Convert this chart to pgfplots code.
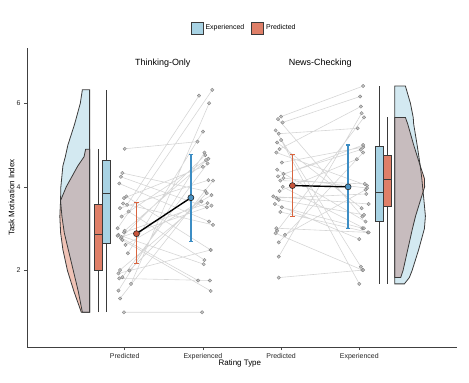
\documentclass[border=0pt]{standalone}
\usepackage{fontspec}
\setmainfont{Liberation Sans}
\usepackage{pgfplots}
\usepackage{pgfplotstable}
\pgfplotsset{compat=1.18}
\usepgfplotslibrary{statistics}
\definecolor{expbox}{HTML}{A8D3E4}
\definecolor{predbox}{HTML}{DF7F68}
\definecolor{expviol}{HTML}{D3E9F1}
\definecolor{predviol}{HTML}{F0C3B6}
\definecolor{overlap}{HTML}{C7BCBE}
\definecolor{errred}{HTML}{D9653F}
\definecolor{errblue}{HTML}{3C8DC4}
\definecolor{meanred}{HTML}{C9553C}
\definecolor{meanblue}{HTML}{4B93C4}
\definecolor{outl}{HTML}{3A3A3A}
\definecolor{pairline}{HTML}{D6D6D6}
\definecolor{ptfill}{HTML}{B8B8B8}
\definecolor{ptdraw}{HTML}{858585}

\pgfplotstableread{
x y
1.00 4.91
1.93 5.08
nan nan
0.97 4.33
2.03 3.90
nan nan
0.95 4.24
2.05 3.51
nan nan
0.93 4.08
2.08 3.17
nan nan
1.02 3.77
2.10 2.49
nan nan
0.99 3.73
2.00 4.48
nan nan
1.03 3.57
1.95 6.18
nan nan
0.94 3.49
2.07 4.16
nan nan
1.05 3.41
2.02 2.25
nan nan
0.96 3.29
2.04 4.64
nan nan
0.91 3.01
2.12 6.32
nan nan
0.99 2.91
2.06 3.61
nan nan
0.92 2.85
2.01 2.15
nan nan
0.91 2.83
1.94 1.76
nan nan
0.95 2.77
2.03 4.76
nan nan
0.97 2.73
2.10 1.51
nan nan
1.01 2.61
2.11 3.80
nan nan
1.04 2.41
2.00 5.32
nan nan
0.94 2.01
1.98 3.65
nan nan
0.92 1.93
2.10 2.49
nan nan
0.97 1.84
2.06 4.56
nan nan
0.93 1.81
2.09 1.76
nan nan
1.08 1.68
2.08 6.00
nan nan
0.92 1.52
2.02 4.82
nan nan
0.94 1.33
2.13 4.15
nan nan
0.99 1.00
1.99 1.00
nan nan
0.98 3.60
2.13 3.09
nan nan
1.00 2.95
2.07 4.67
nan nan
1.06 2.00
2.05 3.85
nan nan
0.96 2.80
2.11 3.55
}\leftpairs

\pgfplotstableread{
x y
3.00 5.68
4.05 6.41
nan nan
2.96 5.62
4.04 3.29
nan nan
3.02 5.54
4.01 6.16
nan nan
2.93 5.35
4.02 2.09
nan nan
2.97 5.27
3.98 5.40
nan nan
3.00 5.12
4.00 1.68
nan nan
2.95 5.06
4.03 3.49
nan nan
2.98 4.90
4.02 5.92
nan nan
2.94 4.82
4.10 4.03
nan nan
3.01 4.58
4.05 4.95
nan nan
2.95 4.41
4.08 3.17
nan nan
3.03 4.31
4.02 4.89
nan nan
2.96 4.25
4.05 5.00
nan nan
3.03 4.21
4.10 3.97
nan nan
2.99 4.15
4.07 4.07
nan nan
2.90 3.77
4.12 3.59
nan nan
2.94 3.73
4.09 3.83
nan nan
2.97 3.69
4.06 3.33
nan nan
2.92 3.59
4.00 2.75
nan nan
3.01 3.51
4.04 3.01
nan nan
2.94 3.01
4.11 2.91
nan nan
2.95 2.95
4.06 5.66
nan nan
2.93 2.89
4.04 2.01
nan nan
3.05 2.85
4.08 3.93
nan nan
2.97 2.67
4.05 4.82
nan nan
2.97 2.33
4.03 5.76
nan nan
2.97 1.83
4.05 2.01
nan nan
2.98 3.90
3.97 4.66
nan nan
3.02 4.00
4.06 3.01
nan nan
2.99 3.40
4.12 2.91
}\rightpairs

\begin{document}
\begin{tikzpicture}
\begin{axis}[
  scale only axis, width=430bp, height=299bp,
  xmin=-0.25, xmax=5.25, ymin=0.17, ymax=7.32,
  axis x line*=bottom, axis y line*=left,
  xtick={1,2,3,4},
  xticklabels={Predicted,Experienced,Predicted,Experienced},
  ytick={2,4,6},
  tick align=outside, major tick length=3bp,
  tick style={color=black!70, line width=0.6bp},
  axis line style={color=black!75, line width=0.8bp},
  ticklabel style={font=\fontsize{7}{8}\selectfont, color=black!85},
  /pgf/number format/assume math mode=true,
  xlabel={Rating Type}, ylabel={Task Motivation Index},
  label style={font=\fontsize{8}{9}\selectfont},
  xlabel style={at={(axis description cs:0.495,-0.054)}, anchor=center},
  ylabel style={at={(axis description cs:-0.036,0.5)}, anchor=center},
  unbounded coords=jump, clip=false,
  boxplot/draw direction=y,
  legend style={at={(axis description cs:0.505,1.067)}, anchor=center, draw=none,
    font=\fontsize{7}{8}\selectfont, legend columns=2,
    /tikz/every even column/.append style={column sep=5bp}},
  legend image code/.code={\draw[#1, line width=0.8bp] (0bp,-6bp) rectangle (12bp,6bp);},
]
\addlegendimage{fill=expbox, draw=outl}
\addlegendentry{Experienced}
\addlegendimage{fill=predbox, draw=outl}
\addlegendentry{Predicted}

% ---- left half violins
\addplot[forget plot, fill=expviol, draw=none] coordinates {
(0.551,6.32) (0.458,6.32) (0.432,6.0) (0.359,5.5) (0.273,5.0) (0.24,4.72) (0.209,4.5) (0.183,4.0) (0.179,3.67) (0.197,3.29) (0.227,2.9) (0.278,2.5) (0.342,2.0) (0.406,1.5) (0.458,1.0) (0.551,1.0)} -- cycle;
\addplot[forget plot, fill=predviol, draw=none] coordinates {
(0.551,4.9) (0.50,4.9) (0.48,4.72) (0.40,4.5) (0.252,4.0) (0.179,3.67) (0.17,3.29) (0.18,2.9) (0.209,2.5) (0.267,2.0) (0.35,1.5) (0.445,1.0) (0.551,1.0)} -- cycle;
\addplot[forget plot, fill=overlap, draw=none] coordinates {
(0.551,4.9) (0.50,4.9) (0.48,4.72) (0.40,4.5) (0.252,4.0) (0.179,3.67) (0.197,3.29) (0.227,2.9) (0.278,2.5) (0.342,2.0) (0.406,1.5) (0.458,1.0) (0.551,1.0)} -- cycle;
\addplot[forget plot, draw=outl, line width=0.8bp] coordinates {
(0.551,6.32) (0.458,6.32) (0.432,6.0) (0.359,5.5) (0.273,5.0) (0.24,4.72) (0.209,4.5) (0.183,4.0) (0.179,3.67) (0.197,3.29) (0.227,2.9) (0.278,2.5) (0.342,2.0) (0.406,1.5) (0.458,1.0) (0.551,1.0)} -- cycle;
\addplot[forget plot, draw=outl, line width=0.8bp] coordinates {
(0.551,4.9) (0.50,4.9) (0.48,4.72) (0.40,4.5) (0.252,4.0) (0.179,3.67) (0.17,3.29) (0.18,2.9) (0.209,2.5) (0.267,2.0) (0.35,1.5) (0.445,1.0) (0.551,1.0)} -- cycle;

% ---- right half violins
\addplot[forget plot, fill=expviol, draw=none] coordinates {
(4.453,6.41) (4.59,6.41) (4.654,6.0) (4.69,5.66) (4.696,5.5) (4.74,5.0) (4.78,4.5) (4.80,4.2) (4.81,4.0) (4.826,3.7) (4.846,3.3) (4.833,3.0) (4.76,2.5) (4.676,2.0) (4.64,1.83) (4.577,1.68) (4.453,1.68)} -- cycle;
\addplot[forget plot, fill=predviol, draw=none] coordinates {
(4.453,5.66) (4.59,5.66) (4.62,5.5) (4.696,5.0) (4.78,4.5) (4.833,4.2) (4.836,4.0) (4.786,3.7) (4.72,3.3) (4.68,3.0) (4.62,2.5) (4.56,2.0) (4.53,1.83) (4.453,1.83)} -- cycle;
\addplot[forget plot, fill=overlap, draw=none] coordinates {
(4.453,5.66) (4.59,5.66) (4.62,5.5) (4.696,5.0) (4.78,4.5) (4.80,4.2) (4.81,4.0) (4.786,3.7) (4.72,3.3) (4.68,3.0) (4.62,2.5) (4.56,2.0) (4.53,1.83) (4.453,1.83)} -- cycle;
\addplot[forget plot, draw=outl, line width=0.8bp] coordinates {
(4.453,6.41) (4.59,6.41) (4.654,6.0) (4.69,5.66) (4.696,5.5) (4.74,5.0) (4.78,4.5) (4.80,4.2) (4.81,4.0) (4.826,3.7) (4.846,3.3) (4.833,3.0) (4.76,2.5) (4.676,2.0) (4.64,1.83) (4.577,1.68) (4.453,1.68)} -- cycle;
\addplot[forget plot, draw=outl, line width=0.8bp] coordinates {
(4.453,5.66) (4.59,5.66) (4.62,5.5) (4.696,5.0) (4.78,4.5) (4.833,4.2) (4.836,4.0) (4.786,3.7) (4.72,3.3) (4.68,3.0) (4.62,2.5) (4.56,2.0) (4.53,1.83) (4.453,1.83)} -- cycle;

% ---- boxplots
\pgfplotsset{myboxw/.style={forget plot, draw=outl, line width=0.9bp, mark=none, solid}}
\addplot[myboxw, fill=predbox, boxplot prepared={draw position=0.665, box extend=0.095, whisker extend=0,
  lower whisker=1.0, lower quartile=2.0, median=2.87, upper quartile=3.58, upper whisker=4.9}] coordinates {};
\addplot[myboxw, fill=expbox, boxplot prepared={draw position=0.77, box extend=0.1, whisker extend=0,
  lower whisker=1.0, lower quartile=2.64, median=3.83, upper quartile=4.64, upper whisker=6.32}] coordinates {};
\addplot[myboxw, fill=expbox, boxplot prepared={draw position=4.257, box extend=0.1, whisker extend=0,
  lower whisker=1.68, lower quartile=3.18, median=3.87, upper quartile=4.96, upper whisker=6.41}] coordinates {};
\addplot[myboxw, fill=predbox, boxplot prepared={draw position=4.36, box extend=0.1, whisker extend=0,
  lower whisker=1.68, lower quartile=3.52, median=4.17, upper quartile=4.76, upper whisker=5.66}] coordinates {};

% ---- paired lines and points
\addplot[forget plot, pairline, line width=0.6bp, mark=none] table[x=x,y=y] {\leftpairs};
\addplot[forget plot, pairline, line width=0.6bp, mark=none] table[x=x,y=y] {\rightpairs};
\addplot[forget plot, only marks, mark=*, mark size=1.7bp, mark options={fill=ptfill, fill opacity=0.8, draw=ptdraw, line width=0.4bp}] table[x=x,y=y] {\leftpairs};
\addplot[forget plot, only marks, mark=*, mark size=1.7bp, mark options={fill=ptfill, fill opacity=0.8, draw=ptdraw, line width=0.4bp}] table[x=x,y=y] {\rightpairs};

% ---- error bars (mean +- spread), drawn as vertical segments with caps
\pgfplotsset{errseg/.style={forget plot, color=#1, line width=1.8bp, mark=-, mark size=2.3bp, mark options={solid, line width=1.1bp, color=#1}}}
\addplot[errseg=errred]  coordinates {(1.15,2.16) (1.15,3.62)};
\addplot[errseg=errblue] coordinates {(1.846,2.70) (1.846,4.78)};
\addplot[errseg=errred]  coordinates {(3.145,3.29) (3.145,4.78)};
\addplot[errseg=errblue] coordinates {(3.857,3.01) (3.857,5.00)};

% ---- mean lines
\addplot[forget plot, black, line width=1.4bp, mark=none] coordinates {(1.15,2.88) (1.846,3.74)};
\addplot[forget plot, black, line width=1.4bp, mark=none] coordinates {(3.145,4.03) (3.857,4.00)};
\addplot[forget plot, only marks, mark=*, mark size=3bp, mark options={fill=meanred, draw=black!85, line width=0.6bp}] coordinates {(1.15,2.88) (3.145,4.03)};
\addplot[forget plot, only marks, mark=*, mark size=3bp, mark options={fill=meanblue, draw=black!85, line width=0.6bp}] coordinates {(1.846,3.74) (3.857,4.00)};

% ---- facet titles
\node[font=\fontsize{9}{10}\selectfont] at (axis cs:1.487,6.96) {Thinking-Only};
\node[font=\fontsize{9}{10}\selectfont] at (axis cs:3.5,6.96) {News-Checking};
\end{axis}
\pgfresetboundingbox
\path[use as bounding box] (-27bp,-36bp) rectangle (442bp,347bp);
\end{tikzpicture}
\end{document}
